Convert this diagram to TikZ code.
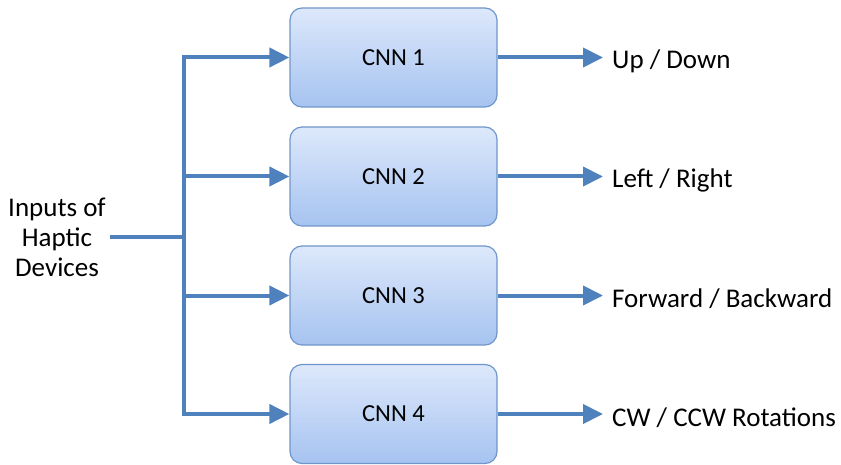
\documentclass[tikz,border=0pt]{standalone}
\usepackage{fontspec}
\setmainfont{Carlito}
\usetikzlibrary{arrows.meta}
\definecolor{linkblue}{HTML}{4F81BD}
\definecolor{boxedge}{HTML}{6F96C9}
\definecolor{boxtop}{HTML}{DDE8FB}
\definecolor{boxbottom}{HTML}{A6C3F0}
\tikzset{
  cnnbox/.style={draw=boxedge, line width=1.2pt, rounded corners=12pt,
    top color=boxtop, bottom color=boxbottom,
    minimum width=207pt, minimum height=99pt, inner sep=0pt,
    font=\fontsize{24.5}{28}\selectfont},
  link/.style={draw=linkblue, line width=4pt},
  arrowlink/.style={link, -{Triangle[length=20pt,width=19pt]}},
  outlabel/.style={anchor=west, inner sep=0pt, font=\fontsize{27}{32}\selectfont},
}
\begin{document}
\begin{tikzpicture}[x=1pt, y=-1pt]
\useasboundingbox (0,0) rectangle (841,465);

% network boxes
\node[cnnbox] (c1) at (393.5,57.5) {CNN 1};
\node[cnnbox] (c2) at (393.5,176.5) {CNN 2};
\node[cnnbox] (c3) at (393.5,295.5) {CNN 3};
\node[cnnbox] (c4) at (393.5,414) {CNN 4};

% input label
\node[align=center, inner sep=0pt, font=\fontsize{27}{30}\selectfont] (in) at (57,237)
  {Inputs of\\Haptic\\Devices};

% output labels
\node[outlabel] (o1) at (612,61) {Up / Down};
\node[outlabel] (o2) at (612,180) {Left / Right};
\node[outlabel] (o3) at (612,299) {Forward / Backward};
\node[outlabel] (o4) at (612,418) {CW / CCW Rotations};

% distribution bus
\coordinate (bin) at (110,237);
\coordinate (bmid) at (184,237);
\coordinate (btop) at (184,57.5);
\coordinate (bbot) at (184,414);
\draw[link] (bin) -- (bmid);
\draw[link, line cap=rect] (btop) -- (bbot);

\foreach \i in {1,...,4} {
  \draw[arrowlink] (184,0 |- c\i.west) -- (c\i.west);
  \draw[arrowlink] (c\i.east) -- (603,0 |- c\i.east);
}
\end{tikzpicture}
\end{document}
